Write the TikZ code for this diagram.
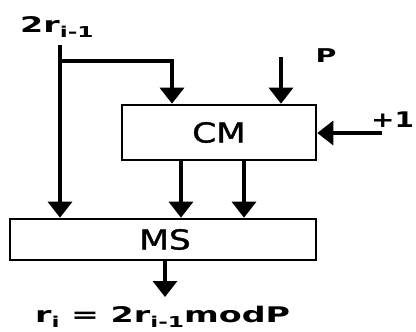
\documentclass[tikz,border=0pt]{standalone}
\usepackage{fontspec}
\setmainfont{DejaVu Sans}
\newfontfamily\semib[FakeBold=1.2]{DejaVu Sans}
\usetikzlibrary{arrows.meta}
\newcommand{\sbs}[1]{\raisebox{-5pt}{\fontsize{15}{15}\selectfont #1}}
\newcommand{\bigtxt}[1]{\scalebox{1.25}[1]{\fontsize{27.5}{27.5}\semib #1}}
\newcommand{\midtxt}[2][1.6]{\scalebox{#1}[1]{\fontsize{21.5}{21.5}\selectfont\bfseries #2}}
\begin{document}
\begin{tikzpicture}[x=1pt,y=-1pt,
  wire/.style={line width=3.4pt},
  arr/.style={wire,-{Triangle[width=24pt,length=16pt]}},
  blk/.style={draw,line width=2.6pt,inner sep=0pt},
  lbl/.style={inner sep=0pt}]
\useasboundingbox (0,0) rectangle (416,332);
\node[blk,minimum width=194pt,minimum height=55pt] (cm) at (219,132.5) {\bigtxt{CM}};
\node[blk,minimum width=306pt,minimum height=41pt] (ms) at (163,239.5) {\hspace*{4pt}\bigtxt{MS}};
\node[lbl,anchor=west] (in) at (20,27) {\midtxt[1.55]{2r\sbs{i-1}}};
\node[lbl] (p) at (326,56) {\scalebox{1.5}[1]{\fontsize{19}{19}\selectfont\bfseries P}};
\node[lbl,anchor=west] (one) at (371,120) {\midtxt[1.3]{+1}};
\node[lbl,anchor=west] (out) at (35,317) {\midtxt[1.55]{r\sbs{i} = 2r\sbs{i-1}modP}};
\coordinate (top) at (60,45);
\coordinate (br) at (60,61);
\coordinate (ptop) at (281,57);
\coordinate (oneend) at (382,133);
\coordinate (outend) at (165,297);
\draw[arr] (top) -- (top |- ms.north);
\draw[arr] (br) -| ([xshift=-47pt]cm.north);
\draw[arr] (ptop) -- (ptop |- cm.north);
\draw[arr] (oneend) -- (oneend -| cm.east);
\draw[arr] ([xshift=-38pt]cm.south) -- ([xshift=-38pt]cm.south |- ms.north);
\draw[arr] ([xshift=25pt]cm.south) -- ([xshift=25pt]cm.south |- ms.north);
\draw[arr] (outend |- ms.south) -- (outend);
\end{tikzpicture}
\end{document}
